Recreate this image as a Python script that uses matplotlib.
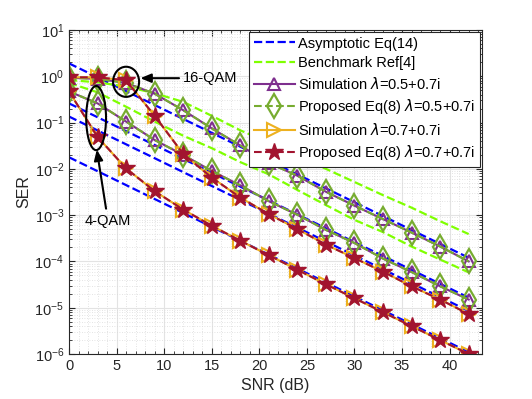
import numpy as np
import matplotlib
matplotlib.use("Agg")
import matplotlib.pyplot as plt
from matplotlib.patches import Ellipse
from matplotlib.ticker import FixedLocator, LogFormatterSciNotation, NullFormatter

plt.rcParams['font.family'] = ['Liberation Sans', 'DejaVu Sans']

# ---------------- data ----------------
snr = [0, 3, 6, 9, 12, 15, 18, 21, 24, 27, 30, 33, 36, 39, 42]

ser_16qam_l05 = [0.93, 0.88, 0.72, 0.42, 0.185, 0.075, 0.032, 0.0134, 0.0071,
                 0.0032, 0.0016, 8.2e-4, 4.2e-4, 2.1e-4, 1.0e-4]
ser_4qam_l05 = [0.47, 0.26, 0.105, 0.042, 0.020, 0.0090, 0.0044, 0.0020, 1.02e-3,
                4.8e-4, 2.5e-4, 1.15e-4, 5.9e-5, 2.9e-5, 1.5e-5]
ser_16qam_l07 = [0.95, 0.95, 0.82, 0.14, 0.021, 0.0065, 0.0024, 1.05e-3, 5.0e-4,
                 2.3e-4, 1.18e-4, 6.0e-5, 2.9e-5, 1.5e-5, 7.3e-6]
ser_4qam_l07 = [0.47, 0.049, 0.0102, 0.0033, 0.00132, 5.9e-4, 2.8e-4, 1.36e-4,
                6.6e-5, 3.2e-5, 1.6e-5, 8.0e-6, 4.0e-6, 2.0e-6, 1.0e-6]

# asymptotic lines (value at SNR = 0 dB and at SNR = 42 dB)
asym_snr = [0, 42]
asym_1 = [1.9, 1.2e-4]
asym_2 = [0.26, 1.65e-5]
asym_3 = [0.135, 8.5e-6]
asym_4 = [0.0178, 1.1e-6]

# benchmark Ref[4]
bench_1 = [0.83, 0.74, 0.6, 0.43, 0.28, 0.14, 0.068, 0.037, 0.019,
           0.010, 0.0052, 0.0027, 1.45e-3, 7.4e-4, 3.9e-4]
bench_2 = [0.72, 0.45, 0.22, 0.105, 0.052, 0.028, 0.014, 0.0076, 0.0035,
           1.65e-3, 7.9e-4, 4.3e-4, 2.1e-4, 1.1e-4, 5.8e-5]

xticks = [0, 5, 10, 15, 20, 25, 30, 35, 40]
yticks = [1e-6, 1e-5, 1e-4, 1e-3, 1e-2, 1e-1, 1e0, 1e1]

# ---------------- figure ----------------
fig = plt.figure(figsize=(5.32, 3.99), dpi=100)
ax = fig.add_axes([69/532, 1-354/399, 413/532, 324/399])

c_blue = '#0000FF'
c_bench = '#7FFF00'
c_purple = '#7E2F8E'
c_green = '#77AC30'
c_orange = '#EDB120'
c_red = '#A2142F'

first = True
for a in (asym_1, asym_2, asym_3, asym_4):
    ax.plot(asym_snr, a, '--', color=c_blue, lw=1.6,
            label='Asymptotic Eq(14)' if first else None)
    first = False
first = True
for b in (bench_1, bench_2):
    ax.plot(snr, b, '--', color=c_bench, lw=1.6,
            label='Benchmark Ref[4]' if first else None)
    first = False

first = True
for s in (ser_16qam_l05, ser_4qam_l05):
    ax.plot(snr, s, '-', color=c_purple, lw=1.5, marker='^', ms=9,
            mfc='none', mew=1.5, label=r'Simulation $\lambda$=0.5+0.7i' if first else None)
    first = False
first = True
for s in (ser_16qam_l05, ser_4qam_l05):
    ax.plot(snr, s, '--', color=c_green, lw=1.5, marker='d', ms=12,
            mfc='none', mew=1.6, label=r'Proposed Eq(8) $\lambda$=0.5+0.7i' if first else None)
    first = False
first = True
for s in (ser_16qam_l07, ser_4qam_l07):
    ax.plot(snr, s, '-', color=c_orange, lw=1.5, marker='>', ms=10,
            mfc='none', mew=1.5, label=r'Simulation $\lambda$=0.7+0.7i' if first else None)
    first = False
first = True
for s in (ser_16qam_l07, ser_4qam_l07):
    ax.plot(snr, s, '--', color=c_red, lw=1.5, marker='*', ms=13,
            mfc=c_red, mec=c_red, mew=1.0, label=r'Proposed Eq(8) $\lambda$=0.7+0.7i' if first else None)
    first = False

ax.set_yscale('log')
ax.set_xlim(0, 43.4)
ax.set_ylim(1e-6, 10)
ax.set_xticks(xticks)
ax.xaxis.set_minor_locator(FixedLocator(np.arange(0, 44, 1)))
ax.xaxis.set_minor_formatter(NullFormatter())
ax.yaxis.set_major_locator(FixedLocator(yticks))
ax.yaxis.set_major_formatter(LogFormatterSciNotation())
minor_y = [m * 10.0 ** e for e in range(-6, 1) for m in range(2, 10)]
ax.yaxis.set_minor_locator(FixedLocator(minor_y))
ax.yaxis.set_minor_formatter(NullFormatter())

ax.grid(True, which='major', color='#E3E3E3', lw=0.8, ls='-')
ax.grid(True, which='minor', color='#DADADA', lw=0.6, ls=(0, (1, 2)))
ax.set_axisbelow(True)

ax.tick_params(which='both', direction='in', top=True, right=True, colors='#262626',
               labelsize=10.5)
ax.tick_params(which='major', length=4)
ax.tick_params(which='minor', length=2)
for sp in ax.spines.values():
    sp.set_color('#262626')
    sp.set_linewidth(0.8)

ax.set_xlabel('SNR (dB)', fontsize=11.5, color='#262626', labelpad=4)
ax.set_ylabel('SER', fontsize=11.5, color='#262626', labelpad=2)

leg = ax.legend(loc='upper right', fontsize=10.5, frameon=True, fancybox=False,
                edgecolor='#262626', framealpha=1, borderaxespad=0.15,
                handlelength=2.8, handletextpad=0.25, labelspacing=0.38,
                borderpad=0.3)
leg.get_frame().set_linewidth(0.8)


# annotations
def to_axes(x, y):
    return ax.transAxes.inverted().transform(ax.transData.transform((x, y)))

cx, cy = to_axes(6.0, 0.76)
ax.add_patch(Ellipse((cx, cy), 0.063, 0.093, transform=ax.transAxes,
                     fill=False, ec='black', lw=1.5, zorder=10))
cx, cy = to_axes(2.85, 0.125)
ax.add_patch(Ellipse((cx, cy), 0.048, 0.198, transform=ax.transAxes,
                     fill=False, ec='black', lw=1.5, zorder=10))

ax.annotate('16-QAM', xy=(7.5, 0.91), xytext=(12.0, 0.91), fontsize=10.5,
            ha='left', va='center', color='black',
            arrowprops=dict(arrowstyle='-|>,head_length=0.6,head_width=0.25',
                            color='black', lw=1.5, shrinkA=1, shrinkB=0))
ax.annotate('4-QAM', xy=(2.92, 0.026), xytext=(4.1, 7.4e-4), fontsize=10.5,
            ha='center', va='center', color='black',
            arrowprops=dict(arrowstyle='-|>,head_length=0.6,head_width=0.25',
                            color='black', lw=1.5, shrinkA=2, shrinkB=0))

fig.savefig('out.png', dpi=100)
